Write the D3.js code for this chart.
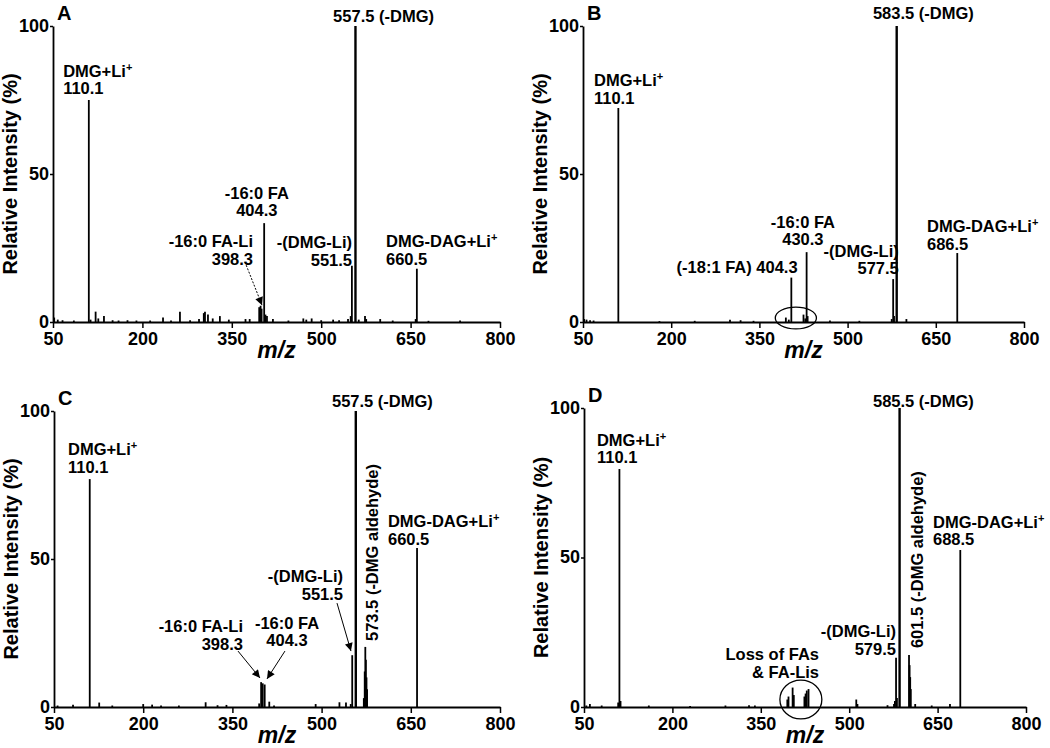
<html>
<head>
<script src="https://d3js.org/d3.v7.min.js"></script>
<style>
  body { margin: 0; background: #fff; }
  text { font-family: "Liberation Sans", Arial, sans-serif; font-weight: bold; fill: #000; }
</style>
</head>
<body>
<div id="fig"></div>
<script>
// axis ticks
var xTicks = [50, 200, 350, 500, 650, 800];
var yTicks = [0, 50, 100];

// peaks: [m/z, relative intensity %]
var peaksA = [[52,1.5],[58,0.8],[66,0.6],[85,0.5],[110.1,75],[113,0.8],[121.5,3.5],[126,1.2],[135.5,2],[150,0.6],
  [160,0.5],[175,0.6],[190,0.5],[213,0.5],[234.6,1.5],[248,0.5],[263,3.5],[280,0.6],[295,1],[303,3],[305,3.5],
  [310,2.5],[318,1.2],[330,2],[345,0.8],[373,1],[380,1],[396,5],[398.3,5.5],[400,4.5],[404.3,33.4],[406.5,2.5],
  [409,2],[419,1],[445,0.5],[470,1.2],[475,0.8],[484,1.2],[500,0.6],[520,0.8],[530,0.6],[545,1],[549.5,2],
  [551.5,19],[557.5,100],[563,0.8],[573.5,2],[575.5,1],[599,1],[620,0.5],[658.5,1],[660.5,18],[680,0.4],[733,0.5]];
var peaksB = [[52,1],[56,0.8],[62,0.6],[68,0.5],[110.1,72.3],[180,0.3],[240,0.4],[300,0.8],[318,0.6],[340,0.4],
  [395,1.5],[400,0.8],[404.3,15],[425,2.5],[428,1.2],[430.3,23.6],[432,2],[470,0.5],[520,0.4],[575,1],
  [577.5,14.5],[579,2],[583.5,100],[600,1],[686.5,23.3]];
var peaksC = [[56,0.5],[82,0.8],[110.1,77],[126,1.5],[148,0.5],[200,1],[215,0.8],[230,0.5],[260,0.5],[305,1.6],
  [325,0.6],[340,0.7],[395,1.2],[398.3,8.4],[401,8],[404.3,7.6],[412,1.8],[420,0.5],[490,1],[530,1.6],[541,1.5],
  [549,1],[551.5,17.5],[557.5,100],[571,3],[572.5,12],[573.5,20.3],[574.5,16],[575.5,10],[576.5,6],[660.5,53.7]];
var peaksD = [[54,0.5],[60,1],[80,0.5],[108,1.5],[110.1,79.6],[112,2],[160,0.5],[230,0.3],[290,0.5],[330,0.6],
  [340,0.5],[395,2.5],[397,3.5],[404,6.5],[406,4],[424,3.5],[426,4.5],[428,5.5],[431,6],[512,2.5],[514,1],
  [565,0.6],[576,1],[577.5,2],[579.5,16.5],[581,3],[585.5,100],[601.5,17.4],[602.5,14],[603.5,10],[604.5,6],
  [612,1],[640,0.5],[671,1],[688.5,52.5]];

// peak annotations ("^" starts a superscript), anchored at m/z and intensity of first baseline
var labelsA = [
  {lines: ["DMG+Li^+", "110.1"], mz: 67, y: 82.8, anchor: "start"},
  {lines: ["557.5 (-DMG)"], mz: 520, y: 101.4, anchor: "start"},
  {lines: ["-16:0 FA", "404.3"], mz: 392, y: 41.6, anchor: "middle"},
  {lines: ["-16:0 FA-Li", "398.3"], mz: 385.6, y: 25.3, anchor: "end"},
  {lines: ["-(DMG-Li)", "551.5"], mz: 551.7, y: 25, anchor: "end"},
  {lines: ["DMG-DAG+Li^+", "660.5"], mz: 608.7, y: 25.3, anchor: "start"}
];
var labelsB = [
  {lines: ["DMG+Li^+", "110.1"], mz: 68.7, y: 79.7, anchor: "start"},
  {lines: ["583.5 (-DMG)"], mz: 543, y: 102.4, anchor: "start"},
  {lines: ["-16:0 FA", "430.3"], mz: 424, y: 31.8, anchor: "middle"},
  {lines: ["(-18:1 FA) 404.3"], mz: 415, y: 16.6, anchor: "end"},
  {lines: ["-(DMG-Li)", "577.5"], mz: 587, y: 22, anchor: "end"},
  {lines: ["DMG-DAG+Li^+", "686.5"], mz: 635, y: 30.4, anchor: "start"}
];
var labelsC = [
  {lines: ["DMG+Li^+", "110.1"], mz: 73.5, y: 85.1, anchor: "start"},
  {lines: ["557.5 (-DMG)"], mz: 517.5, y: 101.4, anchor: "start"},
  {lines: ["-16:0 FA-Li", "398.3"], mz: 367.8, y: 25.3, anchor: "end"},
  {lines: ["-16:0 FA", "404.3"], mz: 441.8, y: 26.5, anchor: "middle"},
  {lines: ["-(DMG-Li)", "551.5"], mz: 536, y: 42.2, anchor: "end"},
  {lines: ["573.5 (-DMG aldehyde)"], mz: 594.8, y: 22.3, anchor: "start", rotate: true},
  {lines: ["DMG-DAG+Li^+", "660.5"], mz: 611.6, y: 60.8, anchor: "start"}
];
var labelsD = [
  {lines: ["DMG+Li^+", "110.1"], mz: 72, y: 87.3, anchor: "start"},
  {lines: ["585.5 (-DMG)"], mz: 540.4, y: 100.5, anchor: "start"},
  {lines: ["Loss of FAs", "& FA-Lis"], mz: 448.8, y: 15.7, anchor: "end"},
  {lines: ["-(DMG-Li)", "579.5"], mz: 579.4, y: 23.4, anchor: "end"},
  {lines: ["601.5 (-DMG aldehyde)"], mz: 625.3, y: 19.7, anchor: "start", rotate: true},
  {lines: ["DMG-DAG+Li^+", "688.5"], mz: 642.2, y: 59.9, anchor: "start"}
];

// arrows [from m/z, from %, to m/z, to %]
var arrowsA = [[372, 20.3, 400.7, 5.7]];
var arrowsC = [[359.4, 18.9, 396.4, 9.8], [438.4, 18.9, 408.2, 9.5], [525.9, 35.1, 549.4, 18.9]];

// circled regions [center m/z, center %, radius m/z, radius %]
var ellipsesB = [[412, 1.35, 35, 3.7]];
var ellipsesD = [[418, 2.5, 35.6, 6.5]];

var panels = [
  {name: "A", left: 53, top: 26, width: 447, height: 296, peaks: peaksA, labels: labelsA, arrows: arrowsA, ellipses: [], dashed: true},
  {name: "B", left: 583, top: 26, width: 441, height: 296, peaks: peaksB, labels: labelsB, arrows: [], ellipses: ellipsesB},
  {name: "C", left: 54, top: 411, width: 446, height: 296, peaks: peaksC, labels: labelsC, arrows: arrowsC, ellipses: []},
  {name: "D", left: 584, top: 408, width: 442, height: 299, peaks: peaksD, labels: labelsD, arrows: [], ellipses: ellipsesD}
];

var svg = d3.select("#fig").append("svg")
  .attr("width", 1050)
  .attr("height", 748);

svg.append("defs").append("marker")
  .attr("id", "head")
  .attr("viewBox", "0 0 10 10")
  .attr("refX", 10).attr("refY", 5)
  .attr("markerWidth", 12).attr("markerHeight", 8)
  .attr("markerUnits", "userSpaceOnUse")
  .attr("orient", "auto")
  .append("path").attr("d", "M0,0L10,5L0,10Z").attr("fill", "#000");

panels.forEach(function(p) {
  var x = d3.scaleLinear().domain([50, 800]).range([p.left, p.left + p.width]);
  var y = d3.scaleLinear().domain([0, 100]).range([p.top + p.height, p.top]);
  var g = svg.append("g");

  // peaks
  g.selectAll(".peak")
    .data(p.peaks)
    .enter()
    .append("line")
      .attr("x1", function(d) { return x(d[0]); })
      .attr("x2", function(d) { return x(d[0]); })
      .attr("y1", y(0))
      .attr("y2", function(d) { return y(d[1]); })
      .attr("stroke", "#000")
      .attr("stroke-width", function(d) { return d[1] > 90 ? 2.4 : 1.8; });

  // axes
  var xa = g.append("g")
    .attr("transform", "translate(0," + y(0) + ")")
    .call(d3.axisBottom(x).tickValues(xTicks).tickSize(6).tickSizeOuter(0).tickPadding(4));
  var ya = g.append("g")
    .attr("transform", "translate(" + x(50) + ",0)")
    .call(d3.axisLeft(y).tickValues(yTicks).tickSize(3).tickSizeOuter(0).tickPadding(1));
  ya.selectAll(".tick text").attr("dy", "0.28em");
  [xa, ya].forEach(function(a) {
    a.select(".domain").attr("stroke-width", 1.8);
    a.selectAll(".tick line").attr("stroke-width", 1.5);
    a.selectAll("text")
      .attr("font-family", "Liberation Sans, Arial, sans-serif")
      .attr("font-weight", "bold")
      .attr("font-size", "18px");
  });

  // axis titles
  g.append("text")
    .attr("x", x(425))
    .attr("y", y(0) + 36)
    .attr("text-anchor", "middle")
    .attr("font-size", "23px")
    .attr("font-style", "italic")
    .text("m/z");
  g.append("text")
    .attr("transform", "translate(" + (x(50) - 36) + "," + y(50) + ") rotate(-90)")
    .attr("text-anchor", "middle")
    .attr("font-size", "20px")
    .text("Relative Intensity (%)");

  // panel letter
  g.append("text")
    .attr("x", x(50) + 4)
    .attr("y", y(100) - 6)
    .attr("font-size", "20px")
    .text(p.name);

  // peak labels: one text element per line
  p.labels.forEach(function(l) {
    l.lines.forEach(function(line, i) {
      var parts = line.split("^");
      var t = g.append("text")
        .attr("font-size", "16.5px")
        .attr("text-anchor", l.anchor);
      if (l.rotate) {
        t.attr("transform", "translate(" + x(l.mz) + "," + y(l.y) + ") rotate(-90)");
      } else {
        t.attr("x", x(l.mz)).attr("y", y(l.y) + i * 17.5);
      }
      t.append("tspan").text(parts[0]);
      if (parts[1]) {
        t.append("tspan")
          .attr("font-size", "11px")
          .attr("baseline-shift", "super")
          .text(parts[1]);
      }
    });
  });

  // arrows
  g.selectAll(".arrow")
    .data(p.arrows)
    .enter()
    .append("line")
      .attr("x1", function(d) { return x(d[0]); })
      .attr("y1", function(d) { return y(d[1]); })
      .attr("x2", function(d) { return x(d[2]); })
      .attr("y2", function(d) { return y(d[3]); })
      .attr("stroke", "#000")
      .attr("stroke-width", 1)
      .attr("stroke-dasharray", p.dashed ? "2,1.5" : null)
      .attr("marker-end", "url(#head)");

  // circled regions
  g.selectAll(".ring")
    .data(p.ellipses)
    .enter()
    .append("ellipse")
      .attr("cx", function(d) { return x(d[0]); })
      .attr("cy", function(d) { return y(d[1]); })
      .attr("rx", function(d) { return x(d[0] + d[2]) - x(d[0]); })
      .attr("ry", function(d) { return y(0) - y(d[3]); })
      .attr("fill", "none")
      .attr("stroke", "#000")
      .attr("stroke-width", 1.3);
});
</script>
</body>
</html>
